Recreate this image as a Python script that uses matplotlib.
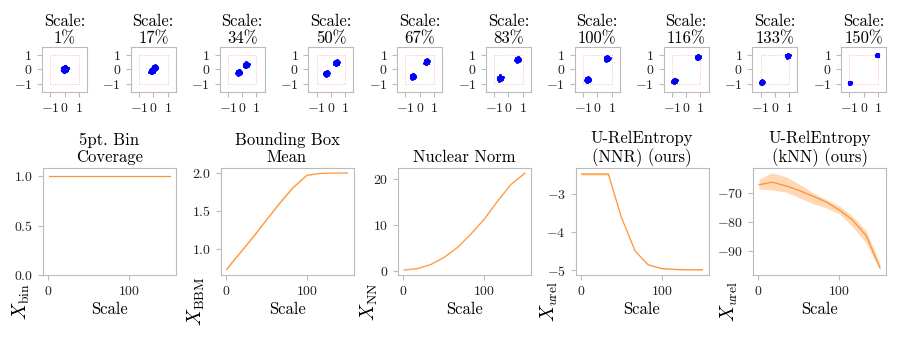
import numpy as np
import matplotlib
matplotlib.use('Agg')
import matplotlib.pyplot as plt

plt.rcParams['font.family'] = 'serif'
plt.rcParams['font.serif'] = ['cmr10', 'DejaVu Serif']
plt.rcParams['mathtext.fontset'] = 'cm'
plt.rcParams['axes.formatter.use_mathtext'] = True
plt.rcParams['axes.unicode_minus'] = True

# scales (percent) used in both rows
scales = [1, 17, 34, 50, 67, 83, 100, 116, 133, 150]

# top row: centre of the two point clusters per scale, and cluster radius
left_x = [0.0, -0.1, -0.24, -0.32, -0.48, -0.6, -0.68, -0.83, -0.92, -0.98]
left_y = [0.0, -0.1, -0.2, -0.28, -0.48, -0.6, -0.7, -0.8, -0.88, -0.92]
right_x = [0.0, 0.1, 0.27, 0.38, 0.48, 0.64, 0.68, 0.83, 0.9, 0.95]
right_y = [0.02, 0.1, 0.3, 0.44, 0.52, 0.68, 0.74, 0.84, 0.92, 0.96]
spread = [0.19, 0.16, 0.15, 0.15, 0.15, 0.15, 0.15, 0.14, 0.11, 0.07]

# hand-read shape of one cluster (unit offsets)
blob_dx = [0.0, 0.5, -0.5, 0.3, -0.3, 0.8, -0.8, 0.1, -0.1, 0.6, -0.6, 0.2, -0.2, 0.9, -0.9,
           0.4, -0.4, 0.7, -0.7, 0.0, 0.35, -0.35, 0.55, -0.55, 0.15, -0.15, 0.0, 0.45, -0.45, 0.25,
           1.2, -1.1, 0.2, -0.3, 0.65, -0.65, 0.75, -0.8]
blob_dy = [0.0, 0.3, -0.2, -0.6, 0.6, 0.1, -0.1, 0.9, -0.9, -0.5, 0.5, 0.4, -0.4, -0.2, 0.2,
           0.7, -0.7, 0.5, -0.5, 0.5, -0.3, 0.3, -0.7, 0.7, -0.2, 0.2, -0.5, 0.0, 0.0, 0.8,
           0.3, -0.4, 1.2, -1.15, 0.65, -0.6, -0.4, 0.45]

# bottom row metrics
bin_cov = [1.0, 1.0, 1.0, 1.0, 1.0, 1.0, 1.0, 1.0, 1.0, 1.0]
bin_cov_sd = [0.004, 0.004, 0.004, 0.004, 0.004, 0.004, 0.004, 0.004, 0.004, 0.004]
bbm = [0.73, 0.94, 1.16, 1.38, 1.61, 1.81, 1.97, 1.995, 2.0, 2.0]
bbm_sd = [0.01, 0.01, 0.01, 0.01, 0.01, 0.01, 0.005, 0.003, 0.002, 0.002]
nn = [0.3, 0.6, 1.5, 3.0, 5.2, 8.0, 11.3, 15.1, 18.8, 21.2]
nn_sd = [0.02, 0.03, 0.04, 0.05, 0.05, 0.05, 0.05, 0.05, 0.05, 0.05]
nnr = [-2.49, -2.49, -2.49, -3.62, -4.5, -4.86, -4.96, -4.98, -4.99, -4.99]
nnr_sd = [0.03, 0.03, 0.03, 0.02, 0.01, 0.01, 0.01, 0.01, 0.01, 0.01]
knn = [-67.3, -66.4, -67.7, -69.2, -71.2, -73.1, -76.0, -79.4, -84.8, -95.9]
knn_hi = [-65.3, -63.2, -64.5, -67.0, -70.0, -72.3, -74.6, -78.1, -83.1, -94.4]
knn_lo = [-68.7, -69.1, -69.8, -71.7, -73.8, -75.2, -77.3, -81.6, -87.4, -96.7]

titles = ['5pt. Bin\nCoverage', 'Bounding Box\nMean', 'Nuclear Norm',
          'U-RelEntropy\n(NNR) (ours)', 'U-RelEntropy\n(kNN) (ours)']
ylabels = [r'$X_{\mathrm{bin}}$', r'$X_{\mathrm{BBM}}$', r'$X_{\mathrm{NN}}$',
           r'$X_{u\mathrm{rel}}$', r'$X_{u\mathrm{rel}}$']
ylabel_x = [-0.085, -0.1, -0.135, -0.12, -0.1]

W, H = 899, 343
fig = plt.figure(figsize=(W / 100, H / 100), dpi=100)

line_c = '#ff7f0e'
spine_c = '#bbbbbb'


def style(ax, size):
    for s in ax.spines.values():
        s.set_color(spine_c)
        s.set_linewidth(0.8)
    ax.tick_params(colors=spine_c, labelcolor='#222222', labelsize=size,
                   length=3.5, width=0.8)


def px_axes(left, top, w, h):
    return fig.add_axes([left / W, 1 - (top + h) / H, w / W, h / H])


bx = np.array(blob_dx)
by = np.array(blob_dy)
for i, s in enumerate(scales):
    ax = px_axes(42 + i * 88.8, 47, 45, 45)
    xs = np.concatenate([left_x[i] + spread[i] * bx, right_x[i] + spread[i] * bx])
    ys = np.concatenate([left_y[i] + spread[i] * by, right_y[i] + spread[i] * by])
    ax.plot([-1, 1, 1, -1, -1], [-1, -1, 1, 1, -1], color='red', alpha=0.35,
            lw=0.6, ls=':')
    ax.scatter(xs, ys, s=5, color='blue', lw=0)
    ax.set_xlim(-1.58, 1.58)
    ax.set_ylim(-1.55, 1.52)
    ax.set_xticks([-1, 0, 1])
    ax.set_yticks([-1, 0, 1])
    style(ax, 10)
    ax.set_title(f'Scale:\n{s}%', fontsize=12, pad=2.5, linespacing=1.2)

series = [bin_cov, bbm, nn, nnr, knn]
sds = [bin_cov_sd, bbm_sd, nn_sd, nnr_sd, None]
for j in range(5):
    ax = px_axes(43 + j * 177.5, 168, 133, 107)
    y = np.array(series[j])
    if sds[j] is None:
        lo, hi = knn_lo, knn_hi
    else:
        lo = y - np.array(sds[j])
        hi = y + np.array(sds[j])
    ax.fill_between(scales, lo, hi, color=line_c, alpha=0.3, lw=0)
    ax.plot(scales, y, color=line_c, lw=0.9, alpha=0.8)
    if j == 0:
        ax.set_ylim(0, 1.085)
        ax.set_yticks([0.0, 0.5, 1.0])
    style(ax, 10)
    ax.set_title(titles[j], fontsize=12, pad=4, linespacing=1.2)
    ax.set_xlabel('Scale', fontsize=12, labelpad=3)
    ax.set_ylabel(ylabels[j], fontsize=14)
    ax.yaxis.set_label_coords(ylabel_x[j], -0.25)

fig.savefig('out.png', dpi=100)
